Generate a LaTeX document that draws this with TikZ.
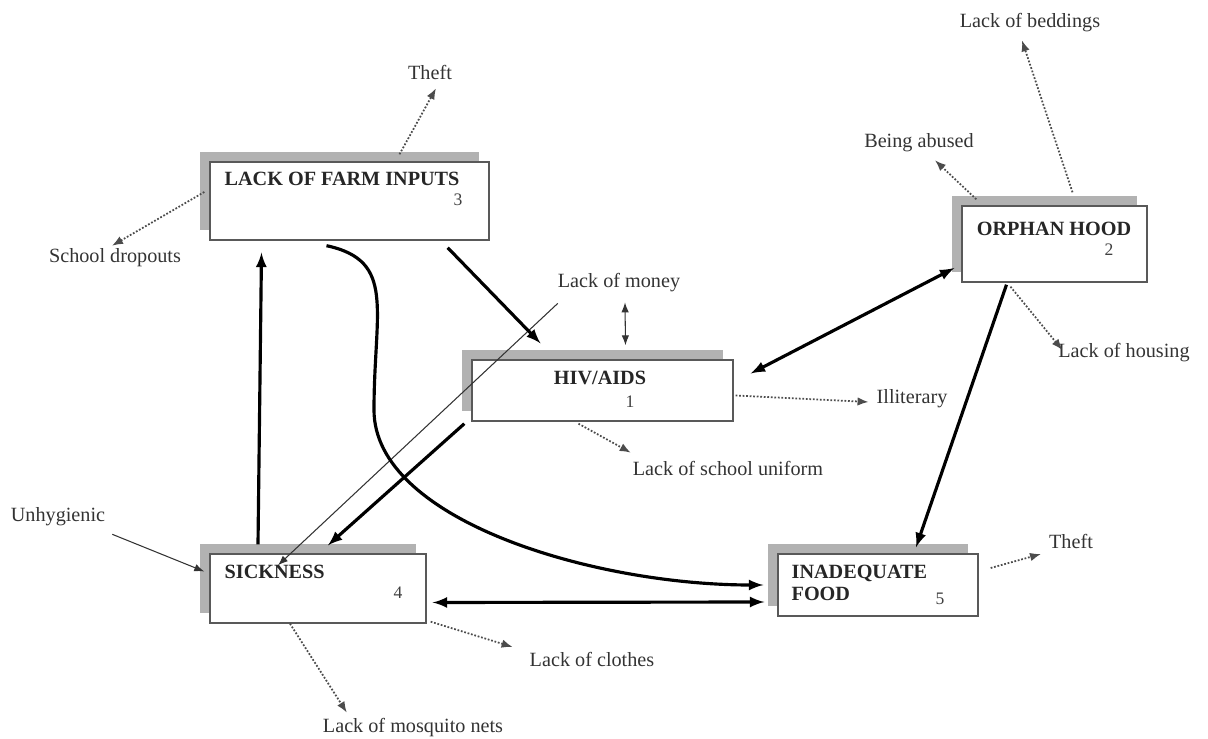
\documentclass[tikz,border=0pt]{standalone}
\usepackage{fontspec}
\setmainfont{Liberation Serif}
\usepackage{tikz}
\usetikzlibrary{arrows,arrows.meta,calc,shadows}

\begin{document}
\begin{tikzpicture}[x=0.02cm,y=-0.02cm,
  box/.style={draw=black!65,line width=0.8pt,fill=white,
    general shadow={fill=black!30,shadow xshift=-0.2cm,shadow yshift=0.2cm}},
  lbl/.style={font=\fontsize{11.5}{13}\selectfont,text=black!80,inner sep=1pt},
  ttl/.style={font=\fontsize{11.5}{13}\selectfont\bfseries,text=black!85,inner sep=0pt,anchor=north west,align=left},
  num/.style={font=\fontsize{10}{12}\selectfont,text=black!75,inner sep=0pt},
  bigarr/.style={line width=1.8pt,-latex},
  bigboth/.style={line width=1.8pt,latex-latex},
  dotarr/.style={densely dotted,line width=1pt,black!70,-{Latex[length=2.2mm,width=1.7mm]}},
  thinarr/.style={line width=0.6pt,black!80,-{Latex[length=2mm,width=1.5mm]}}]
\useasboundingbox (0,0) rectangle (1208,739);

\node[box,minimum width=5.58cm,minimum height=1.56cm] (farm) at (349.5,201) {};
\node[box,minimum width=5.22cm,minimum height=1.22cm] (hiv) at (602.5,390.5) {};
\node[box,minimum width=3.70cm,minimum height=1.52cm] (orphan) at (1054.5,244) {};
\node[box,minimum width=4.32cm,minimum height=1.38cm] (sick) at (318,588.5) {};
\node[box,minimum width=4.00cm,minimum height=1.24cm] (food) at (878,585) {};

\node[ttl] (farmt) at ($(farm.north west)+(15,10)$) {LACK OF FARM INPUTS};
\node[num] (farmn) at (458,200) {3};
\node[ttl,anchor=center] (hivt) at (600,378) {HIV/AIDS};
\node[num] (hivn) at (630,402) {1};
\node[ttl,anchor=center] (orphant) at (1054,229) {ORPHAN HOOD};
\node[num] (orphann) at (1109,250) {2};
\node[ttl] (sickt) at ($(sick.north west)+(15,11)$) {SICKNESS};
\node[num] (sickn) at (398,593) {4};
\node[ttl] (foodt) at ($(food.north west)+(14,11)$) {INADEQUATE\\FOOD};
\node[num] (foodn) at (940,599) {5};

\node[lbl] (theft) at (430,72) {Theft};
\node[lbl] (bed) at (1030,23) {Lack of beddings};
\node[lbl] (abused) at (919,143) {Being abused};
\node[lbl] (drop) at (115,258) {School dropouts};
\node[lbl] (money) at (619,283) {Lack of money};
\node[lbl] (housing) at (1124,353) {Lack of housing};
\node[lbl] (illit) at (912,399) {Illiterary};
\node[lbl] (uniform) at (728,468) {Lack of school uniform};
\node[lbl] (unhyg) at (58,517) {Unhygienic};
\node[lbl] (theftb) at (1071,541) {Theft};
\node[lbl] (clothes) at (592,659) {Lack of clothes};
\node[lbl] (mosq) at (413,728) {Lack of mosquito nets};

\draw[dotarr] ($(farm.north)+(50,-7)$) -- ($(theft.south)+(6,7)$);
\draw[dotarr] ($(farm.west)+(-5,-9)$) -- ($(drop.north)+(-3,-1)$);
\draw[dotarr] ($(orphan.north west)+(15,-6)$) -- ($(abused.south)+(16,6)$);
\draw[dotarr] ($(orphan.north)+(18,-13)$) -- ($(bed.south)+(-8,6)$);
\draw[dotarr] ($(orphan.south)+(-44,4)$) -- ($(housing.west)+(6,-3)$);
\draw[dotarr] ($(hiv.east)+(2,5)$) -- ($(illit.west)+(-6,3)$);
\draw[dotarr] ($(hiv.south)+(-24,2)$) -- ($(uniform.north west)+(0,-6)$);
\draw[dotarr] ($(food.east)+(12,-17)$) -- ($(theftb.west)+(-6,13)$);
\draw[dotarr] ($(sick.south east)+(4,-2)$) -- ($(clothes.west)+(-15,-12)$);
\draw[dotarr] ($(sick.south)+(-28,0)$) -- ($(mosq.north west)+(26,-4)$);

\draw[thinarr] ($(unhyg.south east)+(5,6)$) -- ($(sick.west)+(-5,-17)$);
\draw[thinarr] ($(money.south west)+(2,9)$) -- ($(sick.north)+(-40,12)$);
\draw[thinarr,{Latex[length=2mm,width=1.5mm]}-{Latex[length=2mm,width=1.5mm]}] ($(money.south)+(6,8)$) -- ($(hiv.north)+(23,-14)$);

\draw[bigarr] ($(farm.south east)+(-42,7)$) -- ($(hiv.north)+(-62,-16)$);
\draw[bigarr] ($(hiv.south west)+(-7,2)$) -- ($(sick.north)+(10,-8)$);
\draw[bigarr] ($(sick.north)+(-60,-9)$) -- ($(farm.south)+(-88,12)$);
\coordinate (bend) at (374,410);
\draw[bigarr] ($(farm.south)+(-23,5)$) .. controls +(70,15) and +(0,-100) .. (bend)
  .. controls +(0,110) and +(-170,0) .. ($(food.west)+(-14,0)$);
\draw[bigboth] ($(hiv.east)+(17,-17)$) -- ($(orphan.west)+(-7,24)$);
\draw[bigarr] ($(orphan.south)+(-48,2)$) -- ($(food.north)+(38,-6)$);
\draw[bigboth] ($(sick.east)+(6,14)$) -- ($(food.west)+(-13,17)$);
\end{tikzpicture}
\end{document}
